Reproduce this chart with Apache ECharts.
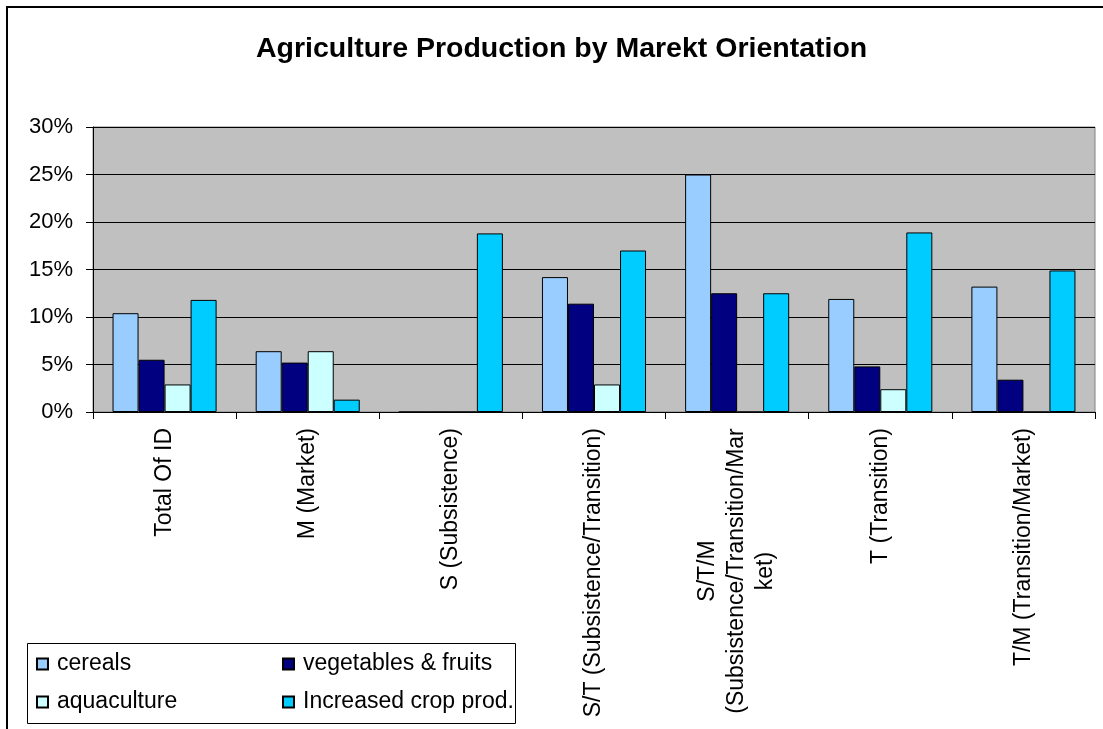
<!DOCTYPE html>
<html>
<head>
<meta charset="utf-8">
<script src="https://cdn.jsdelivr.net/npm/echarts@6/dist/echarts.min.js"></script>
<style>
  html, body { margin: 0; padding: 0; background: #fff; }
  #chart { width: 1103px; height: 729px; }
</style>
</head>
<body>
<div id="chart"></div>
<script>
// Market-orientation groups (line breaks as shown on the axis)
const categories = [
  'Total Of ID',
  'M (Market)',
  'S (Subsistence)',
  'S/T (Subsistence/Transition)',
  'S/T/M\n(Subsistence/Transition/Mar\nket)',
  'T (Transition)',
  'T/M (Transition/Market)'
];

// Share of households (%) per production type
const cereals       = [10.4, 6.4, 0, 14.2, 25.0, 11.9, 13.2];
const vegFruits     = [5.5, 5.2, 0, 11.4, 12.5, 4.8, 3.4];
const aquaculture   = [2.9, 6.4, 0, 2.9, 0, 2.4, 0];
const increasedCrop = [11.8, 1.3, 18.8, 17.0, 12.5, 18.9, 14.9];

const seriesNames = ['cereals', 'vegetables & fruits', 'aquaculture', 'Increased crop prod.'];
const seriesValues = [cereals, vegFruits, aquaculture, increasedCrop];
const seriesColors = ['#99CCFF', '#000080', '#CCFFFF', '#00CCFF'];

const yTicks = { min: 0, max: 30, interval: 5 };

const FONT = 'Liberation Sans, Arial, sans-serif';
const LABEL_SIZE = 23;
const X_LINE_HEIGHT = 29;

// measure text so multi-line axis labels can be centred line by line
const measureCtx = document.createElement('canvas').getContext('2d');
measureCtx.font = LABEL_SIZE + 'px ' + FONT;
function lineWidth(s) { return Math.ceil(measureCtx.measureText(s).width); }

const richStyles = {};
categories.forEach((c, i) => {
  const lines = c.split('\n');
  if (lines.length > 1) {
    richStyles['c' + i] = {
      width: Math.max(...lines.map(lineWidth)),
      align: 'center',
      fontSize: LABEL_SIZE,
      fontFamily: FONT,
      color: '#000',
      lineHeight: X_LINE_HEIGHT
    };
  }
});

const legendCommon = {
  orient: 'vertical', top: 651, itemGap: 12, padding: 0,
  itemWidth: 11, itemHeight: 11, icon: 'rect',
  textStyle: { fontFamily: FONT, fontSize: LABEL_SIZE, color: '#000', lineHeight: 26, padding: [0, 0, 0, 4] }
};

const chart = echarts.init(document.getElementById('chart'), null, { renderer: 'canvas' });

chart.setOption({
  animation: false,
  backgroundColor: '#ffffff',
  title: {
    text: 'Agriculture Production by Marekt Orientation',
    left: 256,
    top: 35,
    padding: 0,
    textStyle: { fontFamily: FONT, fontSize: 28.5, fontWeight: 'bold', color: '#000' }
  },
  graphic: [
    // outer chart frame
    { type: 'rect', shape: { x: 7, y: 7, width: 1300, height: 900 },
      style: { fill: 'none', stroke: '#000', lineWidth: 2 }, silent: true, z: 100 },
    // legend frame
    { type: 'rect', shape: { x: 27.5, y: 643.5, width: 488, height: 80 },
      style: { fill: '#fff', stroke: '#000', lineWidth: 1 }, silent: true, z: -1 }
  ],
  legend: [
    Object.assign({ data: [seriesNames[0], seriesNames[2]], left: 36 }, legendCommon),
    Object.assign({ data: [seriesNames[1], seriesNames[3]], left: 282 }, legendCommon)
  ],
  grid: {
    left: 93, right: 8, top: 127, bottom: 317,
    show: true, backgroundColor: '#C0C0C0', borderColor: '#808080', borderWidth: 1
  },
  xAxis: {
    type: 'category',
    data: categories,
    axisLine: { lineStyle: { color: '#000', width: 1 } },
    axisTick: { show: true, length: 7, lineStyle: { color: '#000' } },
    axisLabel: {
      rotate: 90,
      margin: 16,
      interval: 0,
      fontFamily: FONT,
      fontSize: LABEL_SIZE,
      color: '#000',
      lineHeight: X_LINE_HEIGHT,
      formatter: function (value, idx) {
        const lines = value.split('\n');
        if (lines.length === 1) return value;
        return lines.map(l => '{c' + idx + '|' + l + '}').join('\n');
      },
      rich: richStyles
    },
    splitLine: { show: false }
  },
  yAxis: {
    type: 'value',
    min: yTicks.min, max: yTicks.max, interval: yTicks.interval,
    axisLine: { show: true, lineStyle: { color: '#000', width: 1 } },
    axisTick: { show: true, length: 7, lineStyle: { color: '#000' } },
    axisLabel: {
      margin: 20,
      fontFamily: FONT, fontSize: 22, color: '#000',
      formatter: '{value}%'
    },
    splitLine: { show: true, lineStyle: { color: '#000', width: 1 } }
  },
  series: seriesNames.map((name, i) => ({
    name: name,
    type: 'bar',
    data: seriesValues[i],
    barGap: '0%',
    barCategoryGap: '27.3%',
    itemStyle: { color: seriesColors[i], borderColor: '#000', borderWidth: 1 },
    emphasis: { disabled: true }
  }))
});
</script>
</body>
</html>
